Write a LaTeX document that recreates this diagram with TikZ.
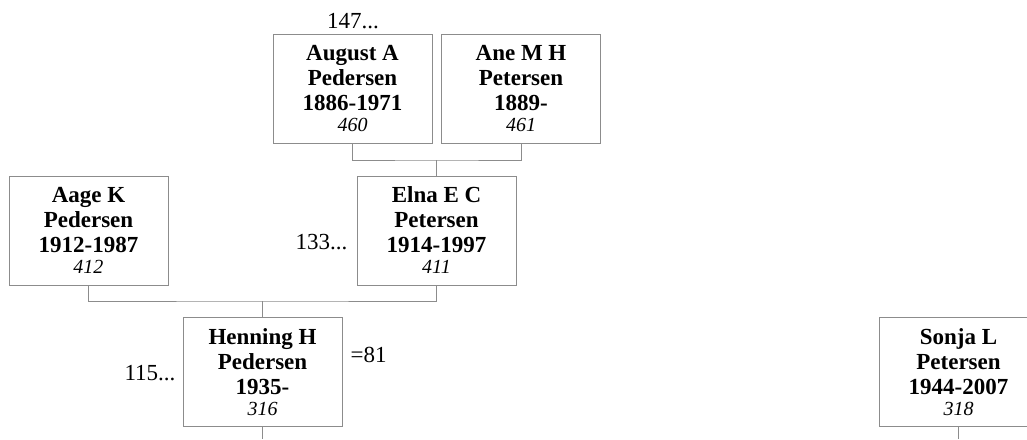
\documentclass[tikz,border=0pt]{standalone}
\usepackage{fontspec}
\setmainfont{Liberation Serif}
\definecolor{boxgray}{HTML}{8C8C8C}

\tikzset{
  person/.style={draw=boxgray, line width=1pt, minimum width=159pt, minimum height=109pt,
    inner sep=0pt, align=center, font=\fontsize{23}{25}\selectfont\bfseries},
  link/.style={draw=boxgray, line width=1pt},
  more/.style={font=\fontsize{23}{25}\selectfont, anchor=base}
}
\newcommand{\pid}[1]{\\[-4pt]{\fontsize{20}{21}\selectfont\mdseries\itshape #1}}

\begin{document}
\begin{tikzpicture}[x=1pt, y=-1pt]

% Page frame
\useasboundingbox (0,0) rectangle (1027,439);
\clip (0,0) rectangle (1027,439);

% Grandparents
\node[person] (august) at (352.5,88.5) {August A\\Pedersen\\1886-1971\pid{460}};
\node[person] (ane) at (521,88.5) {Ane M H\\Petersen\\1889-\pid{461}};

% Parents
\node[person] (aage) at (88.5,230.5) {Aage K\\Pedersen\\1912-1987\pid{412}};
\node[person] (elna) at (436.5,230.5) {Elna E C\\Petersen\\1914-1997\pid{411}};

% Subject and spouse
\node[person] (henning) at (262.5,372) {Henning H\\Pedersen\\1935-\pid{316}};
\node[person] (sonja) at (958.5,372) {Sonja L\\Petersen\\1944-2007\pid{318}};

% Continuation marks
\node[more] (m147) at (353,28) {147...};
\node[more, anchor=base east] (m133) at (351,249) {133...};
\node[more, anchor=base east] (m115) at (179,380) {115...};
\node[more, anchor=base west] (m81) at (347,362) {=81};

% Links
\coordinate (top) at (436.5,160);
\draw[link] (august.south) |- (top) -| (ane.south);
\draw[link] (top) -- (elna.north);
\coordinate (mid) at (262.5,301);
\draw[link] (aage.south) |- (mid) -| (elna.south);
\draw[link] (mid) -- (henning.north);
\coordinate (hdown) at (262.5,439);
\draw[link] (henning.south) -- (hdown);
\coordinate (sdown) at (958.5,439);
\draw[link] (sonja.south) -- (sdown);

\end{tikzpicture}
\end{document}
